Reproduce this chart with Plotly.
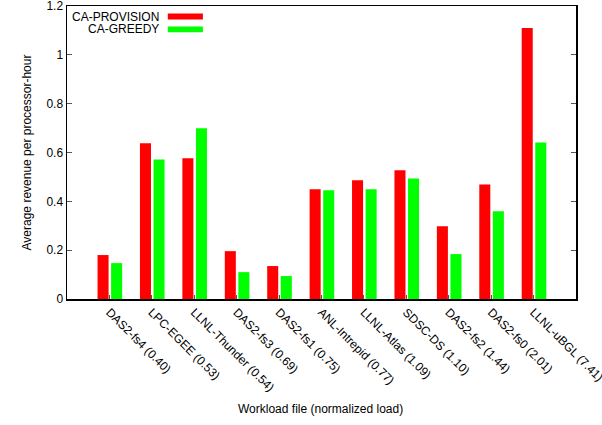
import plotly.graph_objects as go

categories = ["DAS2-fs4 (0.40)", "LPC-EGEE (0.53)", "LLNL-Thunder (0.54)", "DAS2-fs3 (0.69)",
              "DAS2-fs1 (0.75)", "ANL-Intrepid (0.77)", "LLNL-Atlas (1.09)", "SDSC-DS (1.10)",
              "DAS2-fs2 (1.44)", "DAS2-fs0 (2.01)", "LLNL-uBGL (7.41)"]
provision = [0.18, 0.638, 0.576, 0.196, 0.135, 0.449, 0.486, 0.527, 0.298, 0.469, 1.11]
greedy = [0.147, 0.571, 0.699, 0.110, 0.094, 0.445, 0.449, 0.494, 0.184, 0.359, 0.641]
y_ticks = [0, 0.2, 0.4, 0.6, 0.8, 1.0, 1.2]
y_tick_labels = ["0", "0.2", "0.4", "0.6", "0.8", "1", "1.2"]

series = [("CA-PROVISION", provision, "#ff0000", -0.28),
          ("CA-GREEDY", greedy, "#00ff00", 0.04)]

FONT = "Liberation Sans, Arial, Helvetica, sans-serif"

fig = go.Figure()
for name, vals, color, off in series:
    fig.add_trace(go.Bar(x=categories, y=vals, name=name, marker_color=color,
                         marker_line_width=0, width=0.26, offset=off, showlegend=False,
                         hoverinfo="skip"))

# gnuplot-style legend (text right-aligned, swatch to the right)
for i, (name, vals, color, off) in enumerate(series):
    yc = 0.964 - i * 0.044
    fig.add_annotation(xref="paper", yref="paper", x=0.183, y=yc, text=name,
                       showarrow=False, xanchor="right", yanchor="middle", borderpad=0,
                       font=dict(family=FONT, size=12, color="#000"))
    fig.add_shape(type="rect", xref="paper", yref="paper", x0=0.198, x1=0.267,
                  y0=yc - 0.01, y1=yc + 0.01, fillcolor=color, line_width=0)

fig.add_annotation(xref="paper", yref="paper", x=0.498, y=-0.377, text="Workload file (normalized load)",
                   showarrow=False, xanchor="center", yanchor="middle",
                   font=dict(family=FONT, size=12, color="#000"))

fig.update_layout(
    width=602, height=425,
    margin=dict(l=67, r=26, t=6, b=126),
    paper_bgcolor="white", plot_bgcolor="white",
    barmode="overlay",
    font=dict(family=FONT, size=12, color="#000"),
    xaxis=dict(type="category", range=[-1, 11], tickangle=45, automargin=False,
               showline=True, linecolor="#000", linewidth=1.5, mirror=True,
               ticks="inside", ticklen=4, tickcolor="#555", tickwidth=1,
               tickfont=dict(size=12), showgrid=False, ticklabeloverflow="allow"),
    yaxis=dict(range=[0, 1.2], tickvals=y_ticks, ticktext=y_tick_labels, automargin=False,
               showline=True, linecolor="#000", linewidth=1.5, mirror="ticks",
               ticks="inside", ticklen=5, tickcolor="#555", tickwidth=1,
               tickfont=dict(size=12), showgrid=False, zeroline=False,
               ticklabeloverflow="allow",
               title=dict(text="Average revenue per processor-hour", font=dict(size=12), standoff=12)),
)

fig.write_html("out.html", config={"displayModeBar": False, "staticPlot": True},
               post_script="document.body.style.margin='0';")
